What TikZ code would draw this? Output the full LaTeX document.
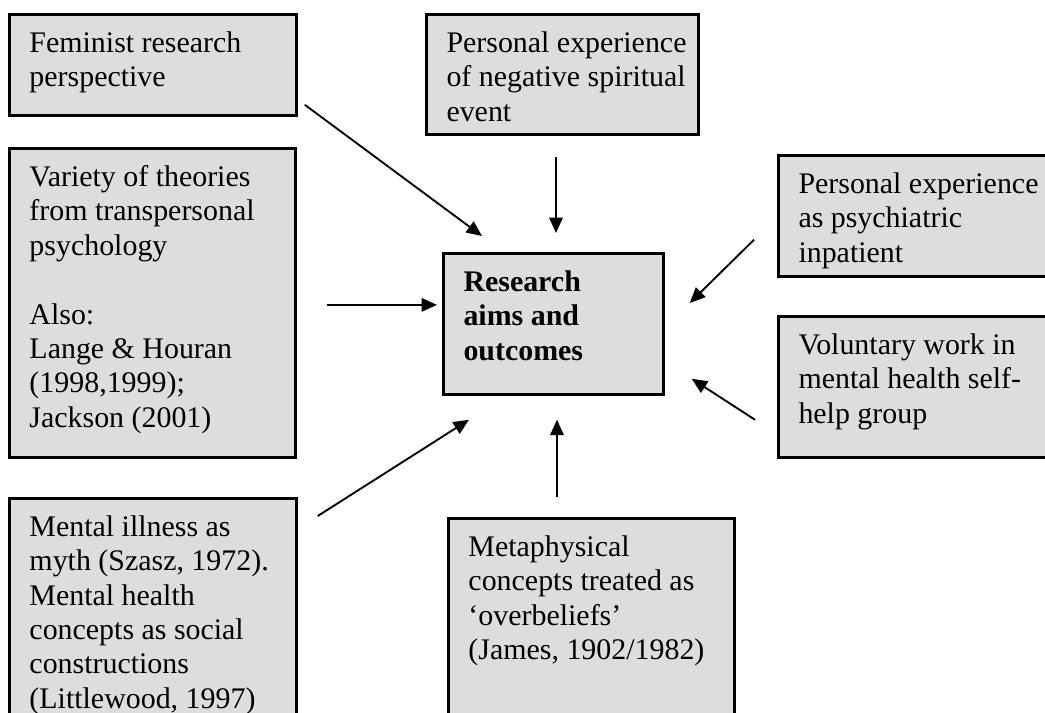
\documentclass[tikz,border=0pt]{standalone}
\usepackage{fontspec}
\setmainfont{Liberation Serif}
\usetikzlibrary{arrows.meta,calc}
\definecolor{boxgray}{HTML}{DDDDDD}
\newcommand{\pxu}{0.4012pt}
\tikzset{
  src/.style={draw, line width=1.1pt, fill=boxgray, anchor=north west, inner sep=0pt},
  srctext/.style={anchor=north west, align=left, inner sep=0pt, font=\fontsize{12}{13.8}\selectfont},
  infl/.style={-{Triangle[length=6.2pt,width=5.4pt]}, line width=0.75pt}
}
\begin{document}
\begin{tikzpicture}[x=\pxu, y=-\pxu]
  \useasboundingbox (0,0) rectangle (1045,712);
  \clip (0,0) rectangle (1045,712);

  % the boxes
  \node at (8,13) [src, minimum width=287*\pxu, minimum height=101*\pxu] (fem) {};
  \node at (8,147) [src, minimum width=286*\pxu, minimum height=309*\pxu] (var) {};
  \node at (8,497) [src, minimum width=287*\pxu, minimum height=240*\pxu] (myth) {};
  \node at (425,13) [src, minimum width=272*\pxu, minimum height=120*\pxu] (negev) {};
  \node at (442,252) [src, minimum width=220*\pxu, minimum height=141*\pxu] (aims) {};
  \node at (447,517) [src, minimum width=286*\pxu, minimum height=220*\pxu] (meta) {};
  \node at (777,154) [src, minimum width=290*\pxu, minimum height=121*\pxu] (inpat) {};
  \node at (777,315) [src, minimum width=290*\pxu, minimum height=141*\pxu] (volun) {};

  % their texts
  \node at ($(fem.north west)+(21,18)$) [srctext] {Feminist research\\perspective};
  \node at ($(var.north west)+(21,18)$) [srctext] {Variety of theories\\from transpersonal\\psychology\\[13.8pt]Also:\\Lange \& Houran\\(1998,1999);\\Jackson (2001)};
  \node at ($(myth.north west)+(21,18)$) [srctext] {Mental illness as\\myth (Szasz, 1972).\\Mental health\\concepts as social\\constructions\\(Littlewood, 1997)};
  \node at ($(negev.north west)+(21,18)$) [srctext] {Personal experience\\of negative spiritual\\event};
  \node at ($(aims.north west)+(21,18)$) [srctext] {\textbf{Research}\\\textbf{aims and}\\\textbf{outcomes}};
  \node at ($(meta.north west)+(21,18)$) [srctext] {Metaphysical\\concepts treated as\\‘overbeliefs’\\(James, 1902/1982)};
  \node at ($(inpat.north west)+(21,18)$) [srctext] {Personal experience\\as psychiatric\\inpatient};
  \node at ($(volun.north west)+(21,18)$) [srctext] {Voluntary work in\\mental health self-\\help group};

  % influences on the research
  \draw[infl] ($(fem.south east)+(7,-12)$) -- ($(aims.north west)+(40,-16)$);
  \draw[infl] ($(negev.south west)+(131,21)$) -- ($(aims.north west)+(114,-19)$);
  \draw[infl] ($(var.east)+(30,2)$) -- ($(aims.west)+(-5,-19)$);
  \draw[infl] ($(inpat.south west)+(-23,-38)$) -- ($(aims.north east)+(25,51)$);
  \draw[infl] ($(volun.south west)+(-22,-39)$) -- ($(aims.south east)+(27,-17)$);
  \draw[infl] ($(myth.north east)+(20,19)$) -- ($(aims.south west)+(27,24)$);
  \draw[infl] ($(meta.north west)+(110,-20)$) -- ($(aims.south west)+(115,24)$);
\end{tikzpicture}
\end{document}
